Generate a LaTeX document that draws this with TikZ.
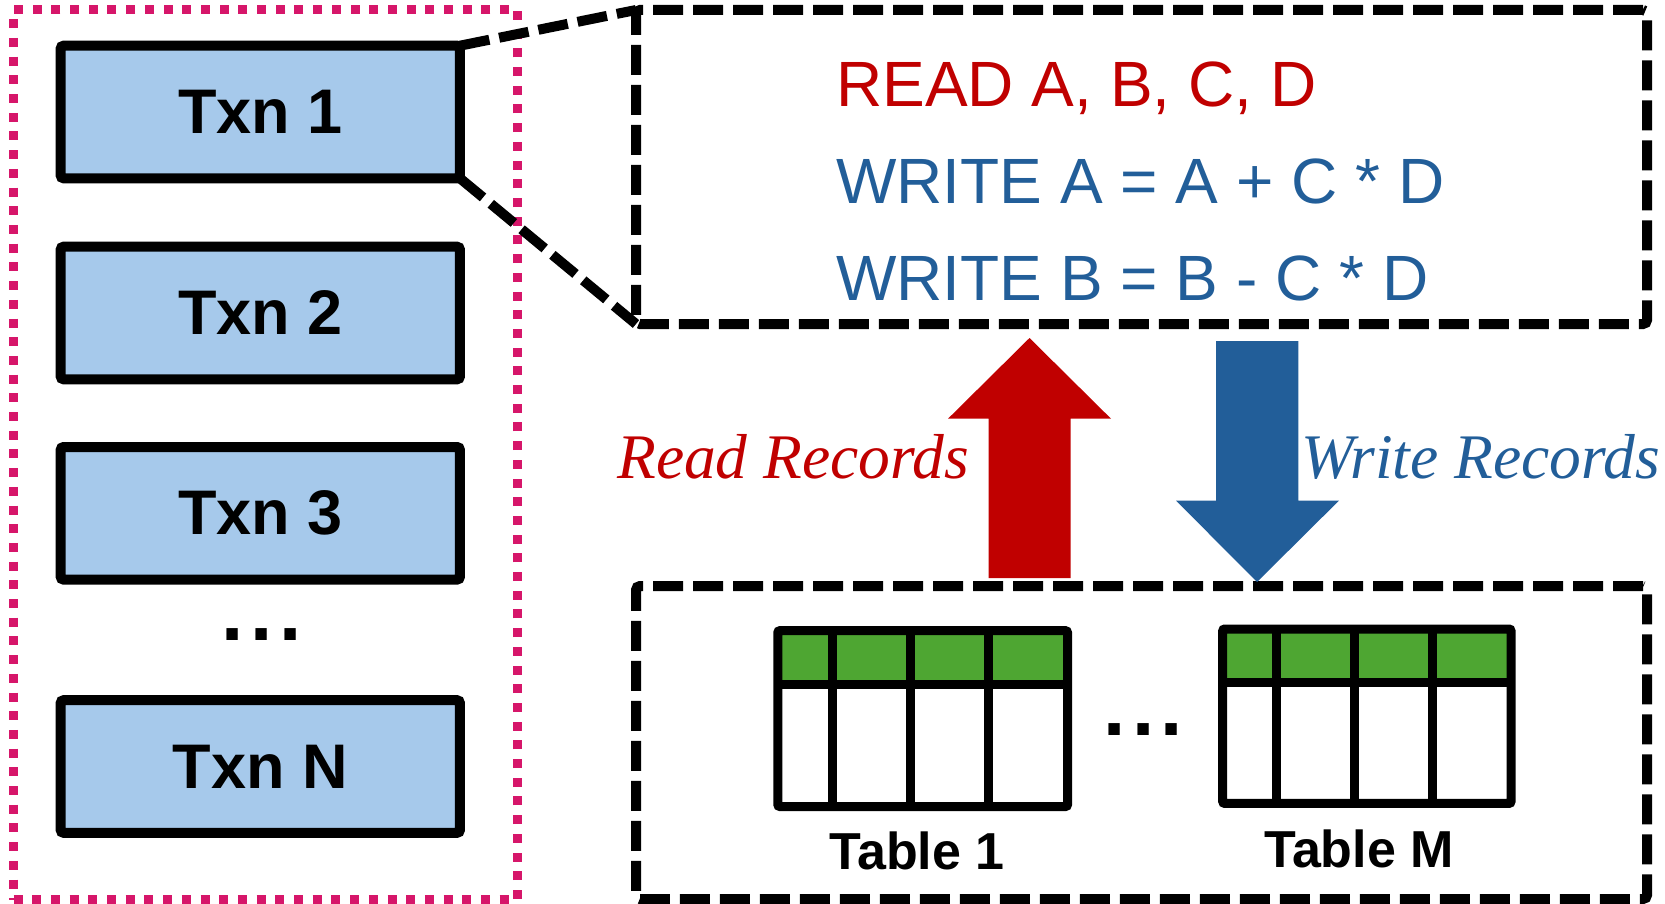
\documentclass[tikz,border=0pt]{standalone}
\usepackage{fontspec}
\setmainfont{Liberation Sans}
\newfontfamily\timesf{Liberation Serif}
\definecolor{txnblue}{HTML}{A6C9EB}
\definecolor{darkred}{HTML}{C00000}
\definecolor{codeblue}{HTML}{225E99}
\definecolor{hdrgreen}{HTML}{4EA632}
\definecolor{pinkdot}{HTML}{D6166A}
\begin{document}
\begin{tikzpicture}[x=1pt,y=-1pt,
  txnbox/.style={draw=black, line width=10pt, fill=txnblue, rounded corners=3pt,
    minimum width=399.3pt, minimum height=132.6pt, inner sep=0pt, outer sep=0pt,
    font=\fontsize{63}{63}\selectfont\bfseries},
  dashbox/.style={draw=black, line width=10pt, dash pattern=on 30pt off 10pt,
    rounded corners=4pt, minimum width=1011pt, inner sep=0pt, outer sep=0pt},
  pinkbox/.style={draw=pinkdot, line width=9pt, dash pattern=on 9pt off 9.7pt,
    minimum width=504.3pt, minimum height=889.5pt, inner sep=0pt, outer sep=0pt},
  conn/.style={draw=black, line width=10pt, dash pattern=on 30pt off 10pt},
  codetext/.style={anchor=base west, inner sep=0pt, font=\fontsize{64}{64}\selectfont},
  recordtext/.style={anchor=base west, inner sep=0pt, font=\fontsize{63.5}{63.5}\selectfont\timesf\itshape},
  tablabel/.style={anchor=base, inner sep=0pt, font=\fontsize{52}{52}\selectfont\bfseries},
  dotstext/.style={anchor=base, inner sep=0pt, font=\fontsize{80}{80}\selectfont\bfseries},
  tabline/.style={draw=black, line width=9pt},
]
\useasboundingbox (0,0) rectangle (1665,904);

% left group of transactions
\node[pinkbox] (group) at (265.65,454.75) {};
\node[txnbox] (txn1) at (260.3,112) {Txn 1};
\node[txnbox] (txn2) at (260.3,313) {Txn 2};
\node[txnbox] (txn3) at (260.3,513.3) {Txn 3};
\node[txnbox] (txnN) at (260.3,766.5) {Txn N};
\node[dotstext] (ldots) at (261.6,640.7) {.\hspace{6.4pt}.\hspace{6.4pt}.};

% code box
\node[dashbox, minimum height=314pt] (code) at (1141.5,167) {};
\node[codetext, text=darkred] (l1) at (836,106.7) {READ A, B, C, D};
\node[codetext, text=codeblue] (l2) at (836,203.3) {WRITE A = A + C * D};
\node[codetext, text=codeblue] (l3) at (836,300) {WRITE B = B - C * D};

% zoom connectors
\draw[conn] (txn1.north east) -- (code.north west);
\draw[conn] (txn1.south east) -- (code.south west);

% database box
\node[dashbox, minimum height=313pt] (db) at (1141.5,742.5) {};

% arrows
\fill[darkred] (988.5,578) -- (988.5,418.7) -- (948,418.7) -- (1029.5,338)
  -- (1111,418.7) -- (1070.5,418.7) -- (1070.5,578) -- cycle;
\fill[codeblue] (1216,341) -- (1298.4,341) -- (1298.4,500.6) -- (1339,500.6)
  -- (1257,582) -- (1176,500.6) -- (1216,500.6) -- cycle;
\node[recordtext, text=darkred] (rr) at (617,478.3) {Read Records};
\node[recordtext, text=codeblue] (wr) at (1301,478.3) {Write Records};

% Table 1
\fill[hdrgreen] (777.8,630.7) rectangle (1067.5,684.7);
\draw[tabline, rounded corners=2pt] (777.8,630.7) rectangle (1067.5,806.5);
\draw[tabline] (777.8,684.7) -- (1067.5,684.7);
\foreach \cx in {832.5,910.5,988.5} \draw[tabline] (\cx,630.7) -- (\cx,806.5);
\node[tablabel] (t1) at (917,869.4) {Table 1};

% Table M
\fill[hdrgreen] (1222.7,629) rectangle (1511,682);
\draw[tabline, rounded corners=2pt] (1222.7,629) rectangle (1511,803.4);
\draw[tabline] (1222.7,682) -- (1511,682);
\foreach \cx in {1276,1354,1432} \draw[tabline] (\cx,629) -- (\cx,803.4);
\node[tablabel] (tM) at (1359,867.5) {Table M};

\node[dotstext] (mdots) at (1143.5,735.3) {.\hspace{6.4pt}.\hspace{6.4pt}.};
\end{tikzpicture}
\end{document}
